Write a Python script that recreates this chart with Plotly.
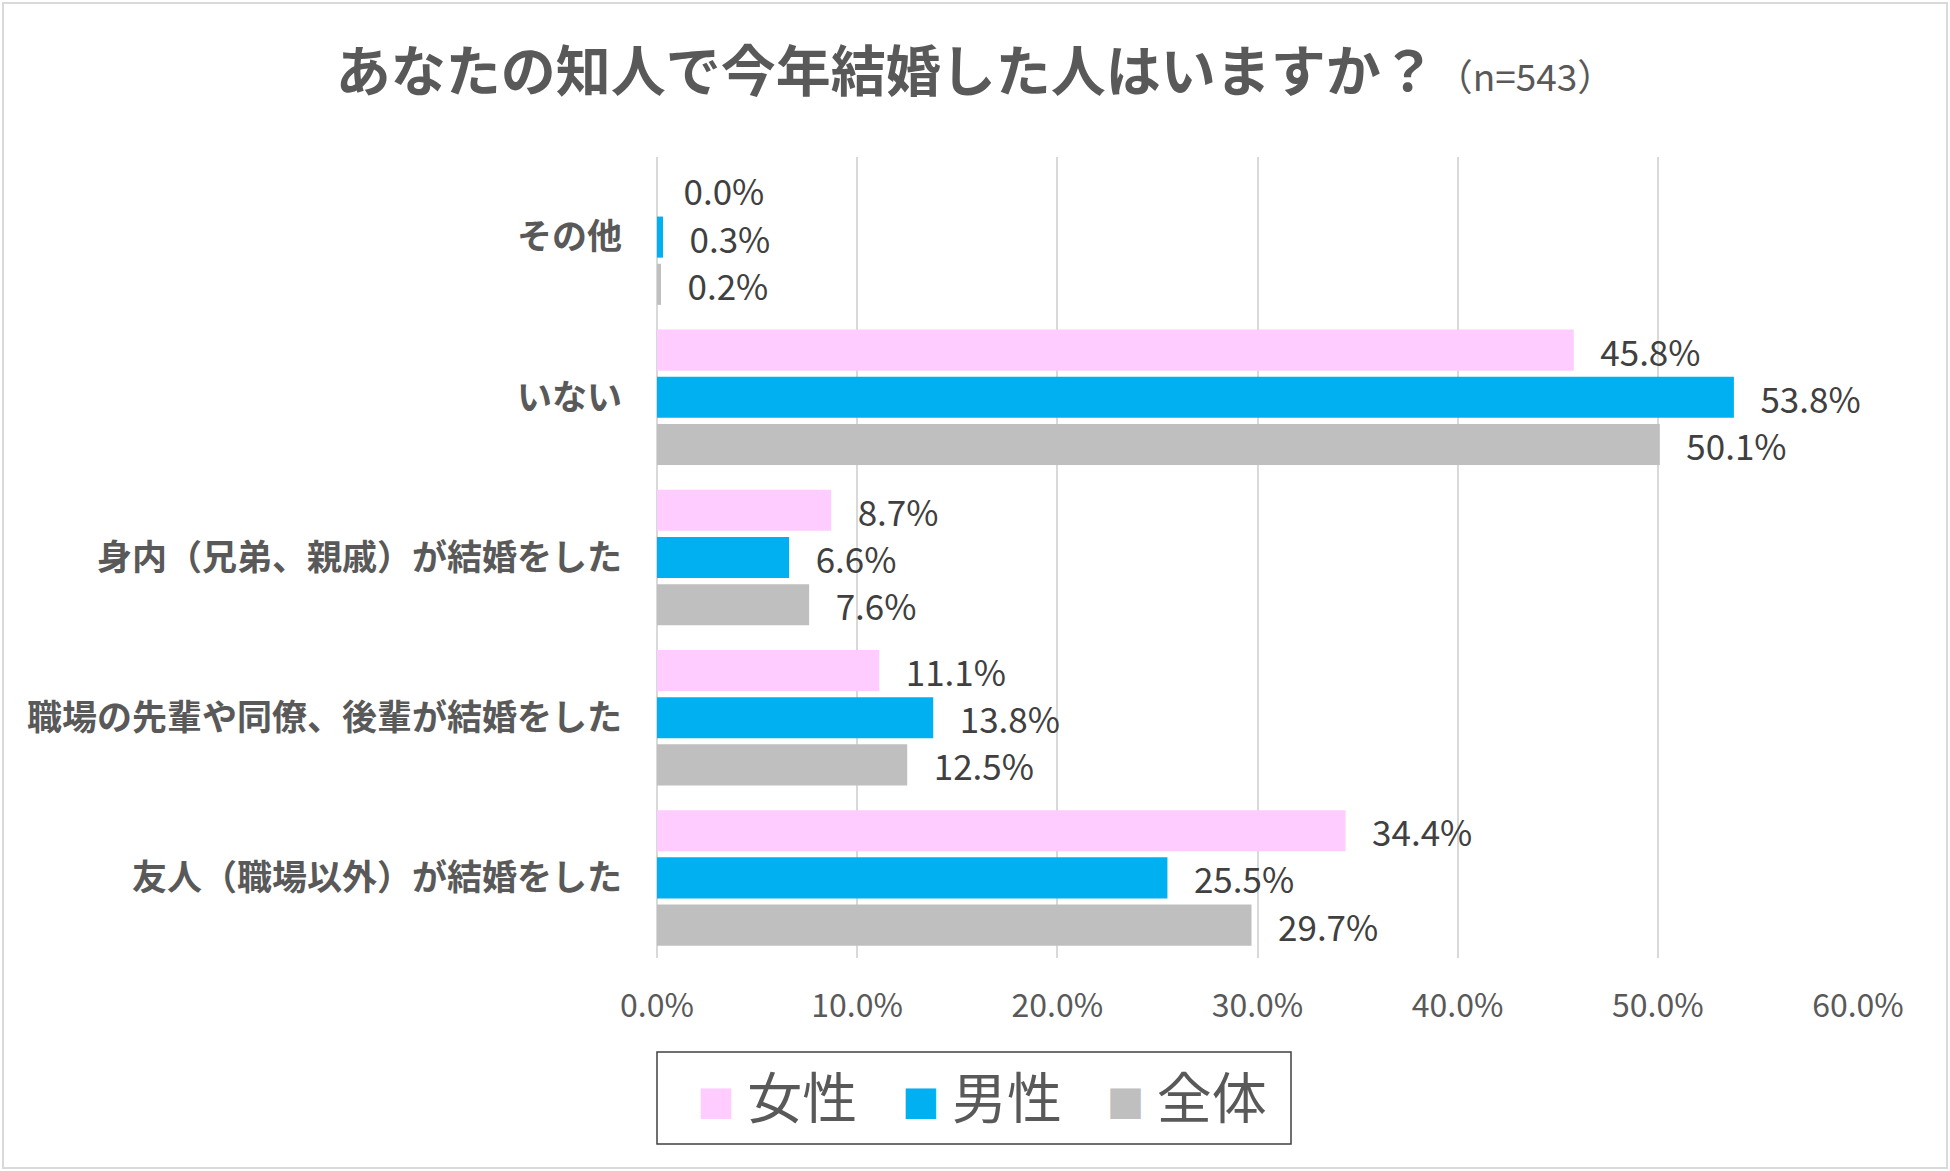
import plotly.graph_objects as go

# categories top to bottom as in the chart
categories = [
    "その他",
    "いない",
    "身内（兄弟、親戚）が結婚をした",
    "職場の先輩や同僚、後輩が結婚をした",
    "友人（職場以外）が結婚をした",
]
female = [0.0, 45.8, 8.7, 11.1, 34.4]
male = [0.3, 53.8, 6.6, 13.8, 25.5]
total = [0.2, 50.1, 7.6, 12.5, 29.7]

series_names = ["女性", "男性", "全体"]
series_colors = ["#FFCCFF", "#00B0F0", "#BFBFBF"]
x_ticks = [0, 10, 20, 30, 40, 50, 60]

FONT = "Noto Sans CJK JP"
NB = "\u00a0"

fig = go.Figure()
for name, vals, col in zip(series_names, [female, male, total], series_colors):
    fig.add_trace(go.Bar(
        y=categories, x=vals, name=name, orientation="h",
        marker=dict(color=col, line=dict(width=0)),
        text=[f"{NB}{NB}{NB}{v:.1f}%" for v in vals],
        textposition="outside", cliponaxis=False, constraintext="none",
        textfont=dict(family=FONT, size=35, color="#404040"),
        showlegend=False, hoverinfo="skip",
    ))

# legend drawn as boxed text built from the series lists
gap = f"<span style='font-size:66px'>{NB * 3}</span>"
legend_txt = gap.join(
    f"<span style='color:{c};font-size:38px'>■</span>{NB}{n}"
    for n, c in zip(series_names, series_colors)
)

fig.update_layout(
    width=1950, height=1171,
    margin=dict(l=657, r=92, t=157, b=213),
    paper_bgcolor="white", plot_bgcolor="white",
    barmode="group", bargap=0.116, bargroupgap=0.13,
    font=dict(family=FONT, color="#595959"),
    title=dict(
        text="<b>あなたの知人で今年結婚した人はいますか？</b>"
             "<span style='font-size:37px'>（n=543）</span>",
        x=0.5, xanchor="center", y=1 - 72 / 1171, yanchor="middle",
        font=dict(family=FONT, size=55, color="#595959"),
    ),
    xaxis=dict(
        range=[0, 60], tickvals=x_ticks,
        ticktext=[f"{v:.1f}%" for v in x_ticks],
        showgrid=True, gridcolor="#D9D9D9", gridwidth=1.5,
        zeroline=True, zerolinecolor="#D9D9D9", zerolinewidth=1.5,
        showline=False, ticks="", ticklabelstandoff=26,
        tickfont=dict(family=FONT, size=32, color="#595959"),
        fixedrange=True,
    ),
    yaxis=dict(
        categoryorder="array", categoryarray=categories,
        autorange="reversed", showgrid=False, showline=False, ticks="",
        ticklabelstandoff=34,
        tickfont=dict(family=FONT, size=35, color="#595959", weight="bold"),
        fixedrange=True,
    ),
    annotations=[dict(
        text=legend_txt, xref="paper", yref="paper",
        x=(981.5 - 657) / 1201, y=(958 - 1089) / 801,
        xanchor="center", yanchor="middle", showarrow=False,
        font=dict(family=FONT, size=55, color="#595959"),
    )],
    shapes=[
        # outer chart frame
        dict(type="rect", xref="paper", yref="paper",
             x0=(3 - 657) / 1201, x1=(1947 - 657) / 1201,
             y0=(958 - 1168) / 801, y1=(958 - 3) / 801,
             line=dict(color="#D9D9D9", width=2), layer="below"),
        # legend frame
        dict(type="rect", xref="paper", yref="paper",
             x0=0, x1=(1291 - 657) / 1201,
             y0=(958 - 1144) / 801, y1=(958 - 1052) / 801,
             line=dict(color="#404040", width=1.5), layer="below"),
    ],
)

fig.write_html("out.html", config={"displayModeBar": False},
               post_script="document.body.style.margin='0px';")
